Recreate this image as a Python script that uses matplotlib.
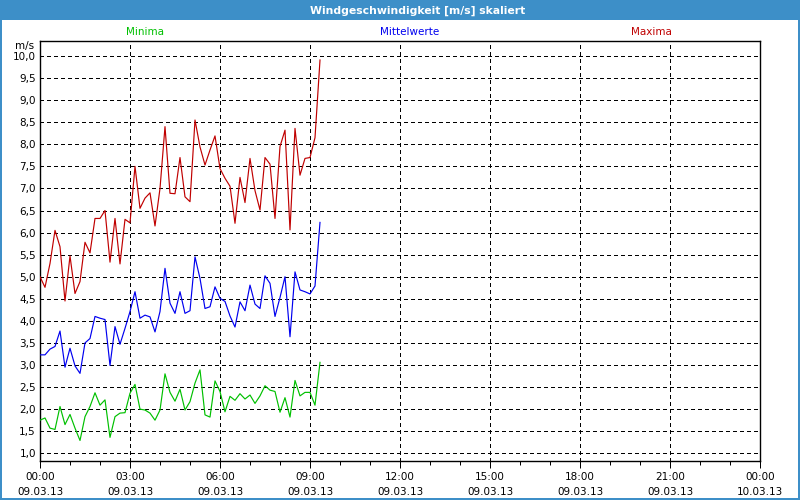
import matplotlib
matplotlib.use("Agg")
import matplotlib.pyplot as plt
import pandas as pd
from matplotlib.patches import Rectangle

# ---------------- data ----------------
start_time = "2013-03-09 00:00"
end_time = "2013-03-10 00:00"
sample_step = "10min"

maxima = [5.00, 4.76, 5.30, 6.05, 5.68, 4.45, 5.47, 4.62, 4.89, 5.78,
          5.54, 6.32, 6.32, 6.50, 5.33, 6.32, 5.29, 6.30, 6.22, 7.50,
          6.55, 6.78, 6.90, 6.15, 7.00, 8.40, 6.89, 6.88, 7.70, 6.81,
          6.70, 8.55, 7.94, 7.53, 7.87, 8.19, 7.45, 7.23, 7.05, 6.21,
          7.25, 6.68, 7.68, 6.95, 6.51, 7.70, 7.55, 6.32, 7.95, 8.32,
          6.06, 8.36, 7.30, 7.68, 7.70, 8.15, 9.91]

mittelwerte = [3.23, 3.23, 3.36, 3.42, 3.77, 2.95, 3.38, 2.98, 2.81, 3.50,
               3.60, 4.10, 4.06, 4.03, 2.99, 3.87, 3.47, 3.83, 4.21, 4.66,
               4.06, 4.13, 4.09, 3.75, 4.21, 5.19, 4.40, 4.17, 4.66, 4.17,
               4.23, 5.45, 4.96, 4.28, 4.32, 4.77, 4.51, 4.44, 4.11, 3.86,
               4.43, 4.23, 4.81, 4.38, 4.28, 5.02, 4.85, 4.10, 4.53, 5.00,
               3.64, 5.11, 4.70, 4.66, 4.61, 4.79, 6.23]

minima = [1.75, 1.80, 1.57, 1.54, 2.06, 1.65, 1.88, 1.57, 1.29, 1.83,
          2.06, 2.37, 2.09, 2.21, 1.36, 1.83, 1.91, 1.92, 2.36, 2.56,
          2.00, 1.98, 1.91, 1.75, 1.98, 2.80, 2.38, 2.18, 2.45, 1.98,
          2.17, 2.59, 2.89, 1.87, 1.82, 2.64, 2.40, 1.94, 2.29, 2.20,
          2.35, 2.23, 2.32, 2.13, 2.30, 2.53, 2.43, 2.40, 1.93, 2.26,
          1.82, 2.65, 2.30, 2.38, 2.38, 2.09, 3.06]

y_ticks = [1.0, 1.5, 2.0, 2.5, 3.0, 3.5, 4.0, 4.5, 5.0, 5.5,
           6.0, 6.5, 7.0, 7.5, 8.0, 8.5, 9.0, 9.5, 10.0]
y_tick_labels = ["1,0", "1,5", "2,0", "2,5", "3,0", "3,5", "4,0", "4,5", "5,0", "5,5",
                 "6,0", "6,5", "7,0", "7,5", "8,0", "8,5", "9,0", "9,5", "10,0"]

x_major_ticks = ["2013-03-09 00:00", "2013-03-09 03:00", "2013-03-09 06:00",
                 "2013-03-09 09:00", "2013-03-09 12:00", "2013-03-09 15:00",
                 "2013-03-09 18:00", "2013-03-09 21:00", "2013-03-10 00:00"]
x_tick_labels = ["00:00\n09.03.13", "03:00\n09.03.13", "06:00\n09.03.13",
                 "09:00\n09.03.13", "12:00\n09.03.13", "15:00\n09.03.13",
                 "18:00\n09.03.13", "21:00\n09.03.13", "00:00\n10.03.13"]

title = "Windgeschwindigkeit [m/s] skaliert"
series_names = ["Minima", "Mittelwerte", "Maxima"]
unit_label = "m/s"

# ---------------- styles ----------------
c_max = "#c00000"
c_mit = "#0000f0"
c_min = "#00c000"
bar_color = "#3d8fc8"
FS = 7.5
PX = 0.72  # one pixel in points

plt.rcParams["font.family"] = ["DejaVu Sans"]

times = pd.date_range(start_time, periods=len(maxima), freq=sample_step)
major = pd.to_datetime(x_major_ticks)
minor = pd.date_range(start_time, end_time, freq="1h")

fig = plt.figure(figsize=(8, 5), dpi=100)
fig.patch.set_facecolor("white")

# title bar and window border
fig.add_artist(Rectangle((0, 1 - 20 / 500), 1, 20 / 500, transform=fig.transFigure,
                         facecolor=bar_color, edgecolor="none"))
fig.add_artist(Rectangle((0, 0), 2 / 800, 1, transform=fig.transFigure,
                         facecolor=bar_color, edgecolor="none"))
fig.add_artist(Rectangle((1 - 2 / 800, 0), 2 / 800, 1, transform=fig.transFigure,
                         facecolor=bar_color, edgecolor="none"))
fig.add_artist(Rectangle((0, 0), 1, 2 / 500, transform=fig.transFigure,
                         facecolor=bar_color, edgecolor="none"))
fig.text(418 / 800, 1 - 10.5 / 500, title, color="white", fontsize=7.8,
         fontweight="bold", ha="center", va="center")

ax = fig.add_axes([40 / 800, 39.3 / 500, 720 / 800, 419.7 / 500])
ax.set_facecolor("white")

ax.plot(times, maxima, color=c_max, lw=0.85, antialiased=True, zorder=3)
ax.plot(times, mittelwerte, color=c_mit, lw=0.85, antialiased=True, zorder=3)
ax.plot(times, minima, color=c_min, lw=0.85, antialiased=True, zorder=3)

ax.set_xlim(pd.Timestamp(start_time), pd.Timestamp(end_time))
ax.set_ylim(0.832, 10.34)

ax.set_yticks(y_ticks)
ax.set_yticklabels(y_tick_labels)
ax.set_xticks(major)
ax.set_xticklabels(x_tick_labels)
ax.set_xticks(minor, minor=True)

ax.grid(True, which="major", color="black", linestyle=(0, (3, 3)),
        linewidth=PX, antialiased=False, zorder=1)

ax.tick_params(axis="x", which="major", length=5, width=PX, labelsize=FS, pad=3)
ax.tick_params(axis="x", which="minor", length=3, width=PX)
ax.tick_params(axis="y", which="both", length=0, labelsize=FS, pad=3)
for lbl in ax.get_xticklabels():
    lbl.set_linespacing(1.7)

for s in ax.spines.values():
    s.set_color("black")
    s.set_linewidth(1.0)

fig.text(25 / 800, 1 - 46 / 500, unit_label, fontsize=FS, ha="center", va="center")
fig.text(145 / 800, 1 - 32 / 500, series_names[0], color=c_min, fontsize=FS,
         ha="center", va="center")
fig.text(410 / 800, 1 - 32 / 500, series_names[1], color=c_mit, fontsize=FS,
         ha="center", va="center")
fig.text(651 / 800, 1 - 32 / 500, series_names[2], color=c_max, fontsize=FS,
         ha="center", va="center")

fig.savefig("out.png", dpi=100, facecolor="white")
